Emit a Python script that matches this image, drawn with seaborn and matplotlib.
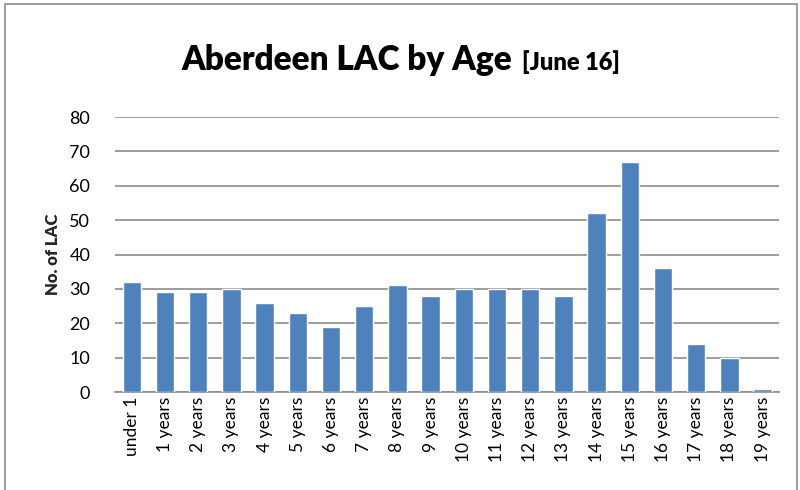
import matplotlib
matplotlib.use("Agg")
import matplotlib.pyplot as plt
import seaborn as sns
import pandas as pd
from matplotlib.patches import Rectangle

# data
ages = ["under 1", "1 years", "2 years", "3 years", "4 years", "5 years", "6 years",
        "7 years", "8 years", "9 years", "10 years", "11 years", "12 years", "13 years",
        "14 years", "15 years", "16 years", "17 years", "18 years", "19 years"]
counts = [32, 29, 29, 30, 26, 23, 19, 25, 31, 28, 30, 30, 30, 28, 52, 67, 36, 14, 10, 1]

lac_df = pd.DataFrame({"Age": ages, "Count": counts})

sns.set_style("white")
plt.rcParams["font.family"] = ["Lato", "DejaVu Sans"]

fig = plt.figure(figsize=(8, 4.9), dpi=100)
ax = fig.add_axes([0.144, 0.2, 0.83, 0.561])

sns.barplot(x="Age", y="Count", data=lac_df, color="#4F81BD", width=0.55,
            saturation=1, ax=ax, zorder=3)

ax.set_ylim(0, 80)
ax.set_yticks(range(0, 81, 10))
ax.set_xlim(-0.5, len(ages) - 0.5)
ax.grid(axis="y", color="#8C8C8C", linewidth=1.2, zorder=0)
ax.set_axisbelow(True)
for side in ["top", "right", "left"]:
    ax.spines[side].set_visible(False)
ax.spines["bottom"].set_color("#8C8C8C")
ax.spines["bottom"].set_linewidth(1.2)

ax.tick_params(axis="both", length=0, labelsize=12.5, colors="black")
ax.tick_params(axis="y", labelsize=13, pad=18)
plt.setp(ax.get_xticklabels(), rotation=90)
ax.set_xlabel("")
ax.set_ylabel("No. of LAC", fontsize=12, fontweight="heavy", labelpad=6)

# title in two parts
fig.text(0.64, 0.878, "Aberdeen LAC by Age", ha="right", va="center",
         fontsize=24, fontweight="heavy", color="black")
fig.text(0.653, 0.873, "[June 16]", ha="left", va="center",
         fontsize=17, fontweight="heavy", color="black")

# chart border
fig.patches.append(Rectangle((0.006, -0.05), 0.99, 1.042, transform=fig.transFigure,
                             fill=False, edgecolor="#8C8C8C", linewidth=1.2))

plt.savefig("out.png", dpi=100)
